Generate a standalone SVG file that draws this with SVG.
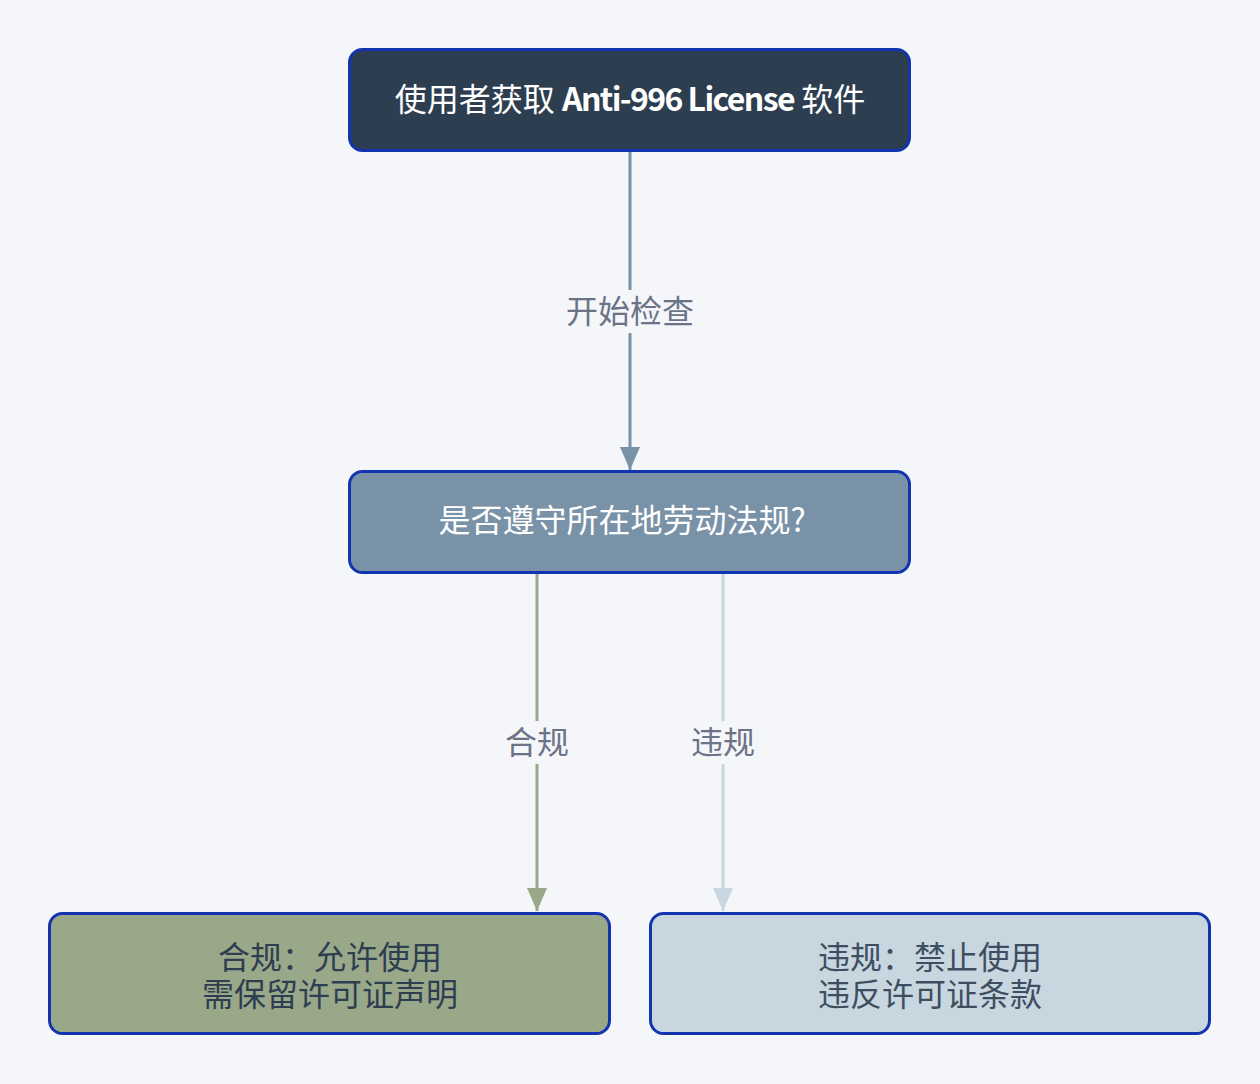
<svg xmlns="http://www.w3.org/2000/svg" width="1260" height="1084" viewBox="0 0 1260 1084">
<style>
text{font-family:"Noto Sans CJK SC","Noto Sans",sans-serif;font-size:32px;text-anchor:middle;dominant-baseline:central}
.node{stroke:#1234b0;stroke-width:3}
.lbl{fill:#6b7386}
.lblbg{fill:#f5f6fa}
</style>
<defs>
<marker id="a1" markerWidth="23" markerHeight="20" refX="23" refY="10" orient="auto" markerUnits="userSpaceOnUse"><path d="M0,0 L23,10 L0,20 Z" fill="#7a92a8"/></marker>
<marker id="a2" markerWidth="23" markerHeight="20" refX="23" refY="10" orient="auto" markerUnits="userSpaceOnUse"><path d="M0,0 L23,10 L0,20 Z" fill="#9aa88a"/></marker>
<marker id="a3" markerWidth="23" markerHeight="20" refX="23" refY="10" orient="auto" markerUnits="userSpaceOnUse"><path d="M0,0 L23,10 L0,20 Z" fill="#c8d6e0"/></marker>
</defs>
<rect width="1260" height="1084" fill="#f5f6fa"/>
<g id="connectors" fill="none" stroke-width="3">
<line x1="630" y1="152" x2="630" y2="470" stroke="#7a92a8" marker-end="url(#a1)"/>
<rect class="lblbg" x="562" y="290" width="136" height="43"/>
<text class="lbl" x="630" y="309">开始检查</text>
<line x1="537" y1="574" x2="537" y2="911" stroke="#9aa88a" marker-end="url(#a2)"/>
<rect class="lblbg" x="503" y="721" width="68" height="43"/>
<text class="lbl" x="537" y="740">合规</text>
<line x1="723" y1="574" x2="723" y2="911" stroke="#c8d6e0" marker-end="url(#a3)"/>
<rect class="lblbg" x="689" y="721" width="68" height="43"/>
<text class="lbl" x="723" y="740">违规</text>
</g>
<g id="n1">
<rect class="node" x="349.5" y="49.5" width="560" height="101" rx="13" fill="#2d3e50"/>
<text x="630" y="97" fill="#ffffff">使用者获取 <tspan font-weight="bold" letter-spacing="-1.6">Anti-996 License</tspan> 软件</text>
</g>
<g id="n2">
<rect class="node" x="349.5" y="471.5" width="560" height="101" rx="13" fill="#7a92a8"/>
<text x="622" y="518" fill="#ffffff">是否遵守所在地劳动法规?</text>
</g>
<g id="n3">
<rect class="node" x="49.5" y="913.5" width="560" height="120" rx="13" fill="#9aa88a"/>
<text x="330" y="955" fill="#2d3e50">合规：允许使用</text>
<text x="330" y="992" fill="#2d3e50">需保留许可证声明</text>
</g>
<g id="n4">
<rect class="node" x="650.5" y="913.5" width="559" height="120" rx="13" fill="#c8d6e0"/>
<text x="930" y="955" fill="#3d4e60">违规：禁止使用</text>
<text x="930" y="992" fill="#3d4e60">违反许可证条款</text>
</g>
</svg>
